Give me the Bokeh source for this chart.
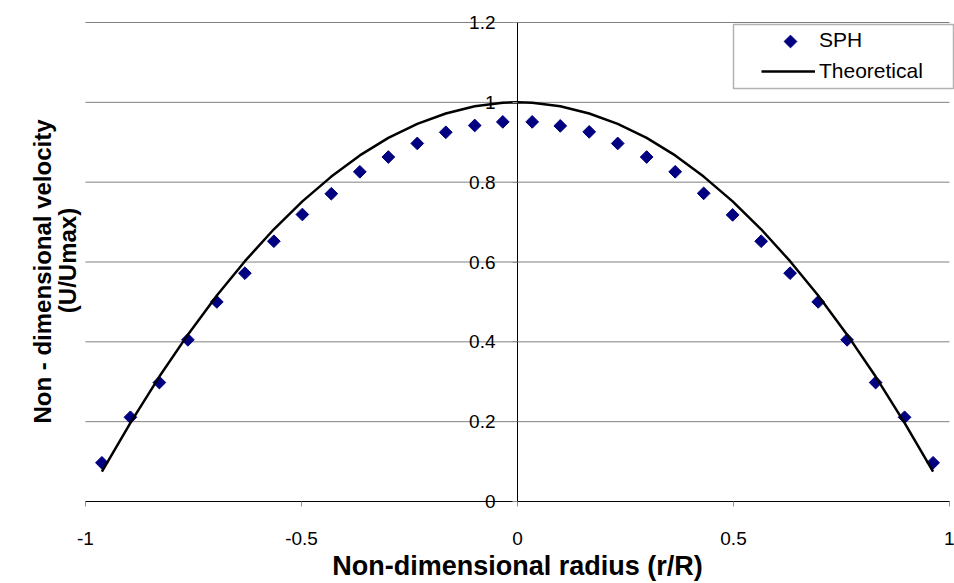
import math
from bokeh.plotting import figure
from bokeh.models import (Range1d, FixedTicker, PrintfTickFormatter, Label, Legend, LegendItem,
                          LinearAxis, BoxAnnotation)
from bokeh.embed import file_html
from bokeh.resources import INLINE

# ---- data ----
sph_r = [-0.962, -0.896, -0.829, -0.763, -0.696, -0.631, -0.564, -0.498, -0.431, -0.365,
         -0.299, -0.232, -0.166, -0.099, -0.034, 0.034, 0.099, 0.166, 0.232, 0.299,
         0.365, 0.431, 0.498, 0.564, 0.631, 0.696, 0.763, 0.829, 0.896, 0.962]
sph_u = [0.097, 0.211, 0.298, 0.405, 0.500, 0.572, 0.652, 0.719, 0.771, 0.826,
         0.863, 0.897, 0.925, 0.942, 0.951, 0.951, 0.941, 0.926, 0.897, 0.863,
         0.826, 0.772, 0.718, 0.652, 0.572, 0.500, 0.405, 0.298, 0.211, 0.097]

theory_r = [-0.962, -0.896, -0.829, -0.763, -0.696, -0.631, -0.564, -0.498, -0.431, -0.365,
            -0.299, -0.232, -0.166, -0.099, -0.034, 0.0, 0.034, 0.099, 0.166, 0.232,
            0.299, 0.365, 0.431, 0.498, 0.564, 0.631, 0.696, 0.763, 0.829, 0.896, 0.962]
theory_u = [0.075, 0.197, 0.313, 0.418, 0.516, 0.602, 0.682, 0.752, 0.814, 0.867,
            0.911, 0.946, 0.972, 0.990, 0.999, 1.000, 0.999, 0.990, 0.972, 0.946,
            0.911, 0.867, 0.814, 0.752, 0.682, 0.602, 0.516, 0.418, 0.313, 0.197, 0.075]

x_ticks = [-1, -0.5, 0, 0.5, 1]
y_ticks = [0, 0.2, 0.4, 0.6, 0.8, 1.0, 1.2]

series_names = ["SPH", "Theoretical"]
x_title = "Non-dimensional radius (r/R)"
y_title_lines = ["Non - dimensional velocity", "(U/Umax)"]

FONT = "Liberation Sans"
SPH_COLOR = "#000080"

# ---- layout (pixels) ----
W, H = 954, 583
PL, PR, PT, PB = 85, 949, 22, 501          # plot-area edges in the picture
xmin, xmax = x_ticks[0], x_ticks[-1]
ymin, ymax = y_ticks[0], y_ticks[-1]
sx = (xmax - xmin) / (PR - PL)               # data per pixel
sy = (ymax - ymin) / (PB - PT)
x_start, x_end = xmin - PL * sx, xmax + (W - PR) * sx
y_start, y_end = ymin - (H - PB) * sy, ymax + PT * sy

def px_x(px):
    return x_start + px * sx

def px_y(py):
    return y_end - py * sy

p = figure(width=W, height=H, output_backend="svg", toolbar_location=None,
           x_range=Range1d(x_start, x_end), y_range=Range1d(y_start, y_end),
           x_axis_location=None, y_axis_location=None,
           min_border=0, min_border_left=0, min_border_right=0,
           min_border_top=0, min_border_bottom=0)
p.outline_line_color = None
p.background_fill_color = "white"
p.border_fill_color = "white"
p.xgrid.visible = False
p.ygrid.visible = False

# horizontal gridlines across the plot area
p.segment(x0=[xmin] * len(y_ticks), x1=[xmax] * len(y_ticks), y0=y_ticks, y1=y_ticks,
          line_color="#808080", line_width=1)

# x axis crossing at y = 0
xa = LinearAxis(fixed_location=0, bounds=(xmin, xmax))
xa.ticker = FixedTicker(ticks=x_ticks)
xa.formatter = PrintfTickFormatter(format="%g")
xa.axis_line_color = "black"
xa.axis_line_width = 1
xa.major_tick_in = 0
xa.major_tick_out = 5
xa.major_tick_line_color = "#909090"
xa.minor_tick_line_color = None
xa.major_label_standoff = 25
xa.major_label_text_font = FONT
xa.major_label_text_font_size = "19px"
xa.major_label_text_color = "black"
xa.axis_label = x_title
xa.axis_label_text_font = FONT
xa.axis_label_text_font_size = "27px"
xa.axis_label_text_font_style = "bold"
xa.axis_label_text_color = "black"
xa.axis_label_standoff = 3
p.add_layout(xa, "below")

# y axis crossing at x = 0
ya = LinearAxis(fixed_location=0, bounds=(ymin, ymax))
ya.ticker = FixedTicker(ticks=y_ticks)
ya.formatter = PrintfTickFormatter(format="%g")
ya.axis_line_color = "black"
ya.axis_line_width = 1
ya.major_tick_in = 0
ya.major_tick_out = 5
ya.major_tick_line_color = "#909090"
ya.minor_tick_line_color = None
ya.major_label_standoff = 17
ya.major_label_text_font = FONT
ya.major_label_text_font_size = "19px"
ya.major_label_text_color = "black"
p.add_layout(ya, "left")

# y axis title, two lines
p.add_layout(Label(x=px_x(42), y=px_y(271), text=y_title_lines[0], angle=math.pi / 2,
                   text_align="center", text_baseline="middle", text_font=FONT,
                   text_font_size="24px", text_font_style="bold", text_color="black"))
p.add_layout(Label(x=px_x(67), y=px_y(260), text=y_title_lines[1], angle=math.pi / 2,
                   text_align="center", text_baseline="middle", text_font=FONT,
                   text_font_size="24px", text_font_style="bold", text_color="black"))

sph = p.scatter(sph_r, sph_u, marker="square", size=9, angle=math.pi / 4,
                fill_color=SPH_COLOR, line_color=SPH_COLOR)
th = p.line(theory_r, theory_u, line_color="black", line_width=2.5)

# legend: box, entries, and the diamond key drawn on top
LL, LR, LT, LB = 733, 953, 24, 88
p.add_layout(BoxAnnotation(left=px_x(LL), right=px_x(LR), top=px_y(LT), bottom=px_y(LB),
                           fill_color="white", fill_alpha=1,
                           line_color="black", line_width=1.5))
sph_key = p.scatter(x=[], y=[], marker="square", size=9, fill_alpha=0, line_alpha=0)
legend = Legend(items=[LegendItem(label=series_names[0], renderers=[sph_key]),
                       LegendItem(label=series_names[1], renderers=[th])],
                location=(756, H - LB), padding=5, margin=0, spacing=7,
                glyph_width=54, glyph_height=24, label_height=24, label_width=120,
                label_standoff=4, border_line_alpha=0, background_fill_alpha=0,
                label_text_font=FONT, label_text_font_size="21px", label_text_color="black")
p.add_layout(legend)
key = p.scatter(x=[px_x(790)], y=[px_y(41)], marker="square", size=9, angle=math.pi / 4,
                fill_color=SPH_COLOR, line_color=SPH_COLOR)
key.level = "overlay"

open("out.html", "w").write(file_html(p, INLINE))
